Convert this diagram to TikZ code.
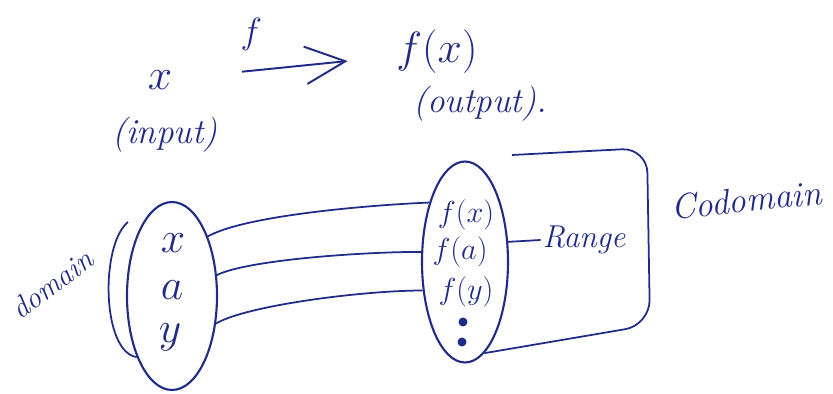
\documentclass[tikz,border=0pt]{standalone}
\usepackage{tikz}
\usetikzlibrary{shapes.geometric, arrows.meta, positioning, calc}
\definecolor{inkblue}{RGB}{32,42,135}
\tikzset{
    hand/.style={text=inkblue, inner sep=1pt, font=\fontsize{20}{24}\selectfont\itshape},
    bighand/.style={hand, font=\fontsize{28}{32}\selectfont},
    elem/.style={hand, font=\fontsize{24}{28}\selectfont},
    imgelem/.style={hand, font=\fontsize{18}{22}\selectfont},
    setbox/.style={ellipse, draw=inkblue, line width=1.2pt, inner sep=0pt},
    link/.style={draw=inkblue, line width=1pt},
    maparrow/.style={-{Straight Barb[length=8mm, width=7.5mm, line width=1.1pt]}, draw=inkblue, line width=1.1pt}
}

\begin{document}
\begin{tikzpicture}[x=0.02cm, y=-0.02cm]
    \useasboundingbox (0,0) rectangle (833,394);

    % input -> output
    \node[bighand] (inx) at (160,80) {$x$};
    \node[hand] (inlbl) at (165,135) {(input)};
    \node[bighand] (outfx) at (437,52) {$f(x)$};
    \node[hand] (outlbl) at (480,104) {(output).};
    \draw[maparrow, shorten <=1.36cm, shorten >=0.94cm] (inx) -- node[hand, pos=0.35, above=0.35cm]{$f$} (outfx);

    % domain and range sets
    \node[setbox, minimum width=1.8cm, minimum height=3.76cm] (dom) at (172,296) {};
    \node[setbox, minimum width=1.72cm, minimum height=4.02cm] (rng) at (465,262) {};
    \node[elem] (ex) at (173,243) {$x$};
    \node[elem] (ea) at (172,290) {$a$};
    \node[elem] (ey) at (170,337) {$y$};
    \node[imgelem] (fx) at (466,215) {$f(x)$};
    \node[imgelem] (fa) at (460,252) {$f(a)$};
    \node[imgelem] (fy) at (466,292) {$f(y)$};
    \fill[inkblue] (463,322) circle (0.09cm) (462,342) circle (0.09cm);

    \draw[link] (dom.59) .. controls +(40,-22) and +(-50,2) .. (rng.121);
    \draw[link] (dom.25) .. controls +(30,-15) and +(-60,0) .. (rng.167);
    \draw[link] (dom.-32) .. controls +(30,-18) and +(-60,0) .. (rng.214);

    % labels
    \node[hand, rotate=37, font=\fontsize{17}{20}\selectfont\itshape] (lbldomain) at (52,284) {domain};
    \coordinate (dtop) at (128,222);
    \draw[link] (dtop) .. controls +(-28,23) and +(-35,-5) .. (dom.240);

    \node[hand, font=\fontsize{18}{22}\selectfont\itshape] (lblrange) at (584,240) {Range};
    \draw[link] (rng.25) -- (lblrange.west);

    \coordinate (cdtop) at (512,155);
    \draw[link, rounded corners=0.5cm] (cdtop) -- (647,148) -- (650,325) -- (rng.-78);
    \node[hand, rotate=6] (lblcodomain) at (746,200) {Codomain};
\end{tikzpicture}
\end{document}
